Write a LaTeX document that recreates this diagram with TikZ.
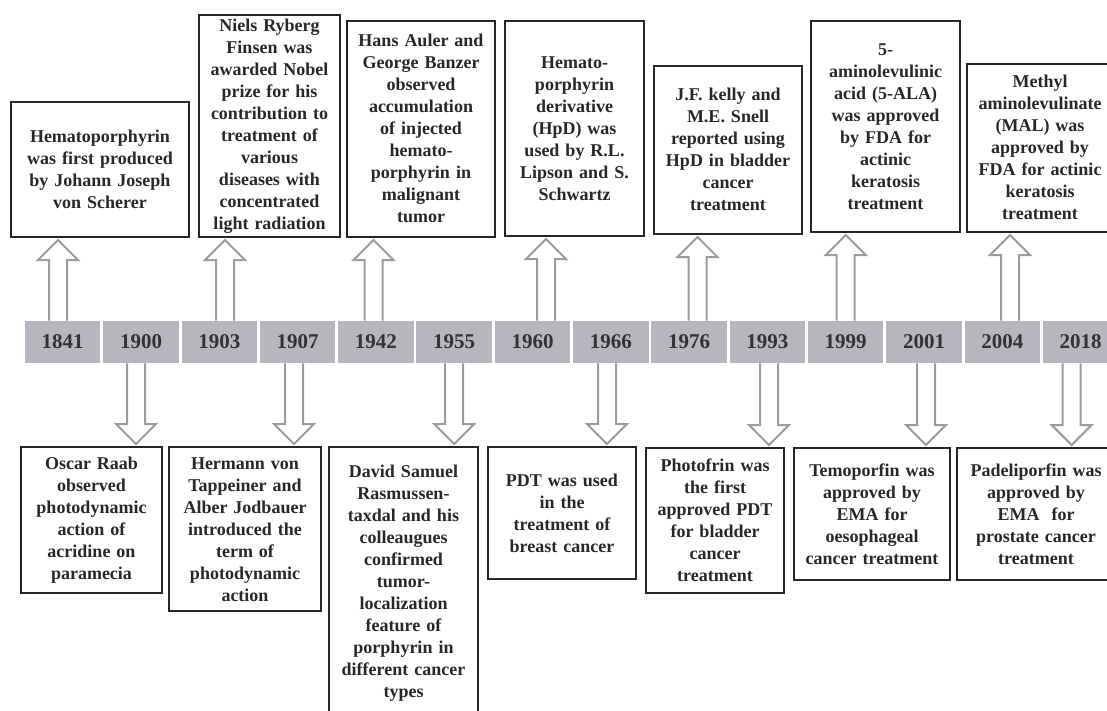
\documentclass[tikz,border=0pt]{standalone}
\usepackage{fontspec}
\setmainfont{Liberation Serif}
\usetikzlibrary{calc}
\definecolor{barfill}{RGB}{182,182,190}
\definecolor{arrowline}{RGB}{155,155,160}
\definecolor{inkgray}{RGB}{40,40,40}

\begin{document}
\begin{tikzpicture}
  [x=0.5pt,y=-0.5pt,
   yearcell/.style={fill=barfill,minimum width=37.75pt,minimum height=21pt,inner sep=0pt,
     font=\fontsize{10.5}{12}\selectfont\bfseries,text=black!80},
   event/.style={draw=black!85,line width=1.2pt,fill=white,align=center,
     inner xsep=1.5pt,inner ysep=0pt,font=\fontsize{9}{11}\selectfont\bfseries,text=inkgray},
   upbox/.style={event,anchor=south},
   downbox/.style={event,anchor=north},
   hollow/.style={draw=arrowline,line width=1pt,fill=white}]
  \fill[white] (0,0) rectangle (1107,711);
  \useasboundingbox (0,0) rectangle (1107,711);

  % timeline
  \foreach \yr [count=\i from 0] in {1841,1900,1903,1907,1942,1955,1960,1966,1976,1993,1999,2001,2004,2018}
    \node[yearcell] (c\yr) at ({62.7+78.3*\i},342) {\yr\hspace{5pt}};

  % events above
  \node[upbox,text width=86pt,minimum height=67.5pt] (t1841) at (100,238)
    {Hematoporphyrin\\was first produced\\by Johann Joseph\\von Scherer};
  \node[upbox,text width=67.5pt,minimum height=111pt] (t1903) at (269.5,238)
    {Niels Ryberg\\Finsen was\\awarded Nobel\\prize for his\\contribution to\\treatment of\\various\\diseases with\\concentrated\\light radiation};
  \node[upbox,text width=71pt,minimum height=108pt] (t1942) at (421,238)
    {Hans Auler and\\George Banzer\\observed\\accumulation\\of injected\\hemato-\\porphyrin in\\malignant\\tumor};
  \node[upbox,text width=66.5pt,minimum height=107.5pt] (t1960) at (574.5,237)
    {Hemato-\\porphyrin\\derivative\\(HpD) was\\used by R.L.\\Lipson and S.\\Schwartz};
  \node[upbox,text width=71pt,minimum height=84pt] (t1976) at (728,235)
    {J.F. kelly and\\M.E. Snell\\reported using\\HpD in bladder\\cancer\\treatment};
  \node[upbox,text width=71.5pt,minimum height=105.5pt] (t1999) at (885.5,233)
    {5-\\aminolevulinic\\acid (5-ALA)\\was approved\\by FDA for\\actinic\\keratosis\\treatment};
  \node[upbox,text width=70pt,minimum height=84pt] (t2004) at (1040,233)
    {Methyl\\aminolevulinate\\(MAL) was\\approved by\\FDA for actinic\\keratosis\\treatment};

  % events below
  \node[downbox,text width=67.5pt,minimum height=73pt] (d1900) at (91.5,446)
    {Oscar Raab\\observed\\photodynamic\\action of\\acridine on\\paramecia};
  \node[downbox,text width=73pt,minimum height=82pt] (d1907) at (245,446)
    {Hermann von\\Tappeiner and\\Alber Jodbauer\\introduced the\\term of\\photodynamic\\action};
  \node[downbox,text width=71.5pt,minimum height=135.5pt] (d1955) at (403.5,446)
    {David Samuel\\Rasmussen-\\taxdal and his\\colleaugues\\confirmed\\tumor-\\localization\\feature of\\porphyrin in\\different cancer\\types};
  \node[downbox,text width=71pt,minimum height=66pt] (d1966) at (562,446)
    {PDT was used\\in the\\treatment of\\breast cancer};
  \node[downbox,text width=66pt,minimum height=72.5pt] (d1993) at (715,447)
    {Photofrin was\\the first\\approved PDT\\for bladder\\cancer\\treatment};
  \node[downbox,text width=75pt,minimum height=66pt] (d2001) at (872,447)
    {Temoporfin was\\approved by\\EMA for\\oesophageal\\cancer treatment};
  \node[downbox,text width=76pt,minimum height=66pt] (d2018) at (1036,447)
    {Padeliporfin was\\approved by\\EMA\ \ for\\prostate cancer\\treatment};

  % block arrows
  \foreach \yr/\dx in {1841/-4.7,1903/5.7,1942/-2.4,1960/13.5,1976/8.4,1999/0,2004/7.7}
    \draw[hollow] let \p1=([xshift=\dx*0.5pt]c\yr.north), \p2=(t\yr.south) in
      (\x1-4.5pt,\y1) -- (\x1-4.5pt,\y2-11pt) -- (\x1-10pt,\y2-11pt) -- (\x1,\y2-1pt)
      -- (\x1+10pt,\y2-11pt) -- (\x1+4.5pt,\y2-11pt) -- (\x1+4.5pt,\y1);
  \foreach \yr/\dx in {1900/-5,1907/-3.6,1955/0,1966/-3.8,1993/1.6,2001/2,2018/-9}
    \draw[hollow] let \p1=([xshift=\dx*0.5pt]c\yr.south), \p2=(d\yr.north) in
      (\x1-4.5pt,\y1) -- (\x1-4.5pt,\y2+11pt) -- (\x1-10pt,\y2+11pt) -- (\x1,\y2+1pt)
      -- (\x1+10pt,\y2+11pt) -- (\x1+4.5pt,\y2+11pt) -- (\x1+4.5pt,\y1);
\end{tikzpicture}
\end{document}
